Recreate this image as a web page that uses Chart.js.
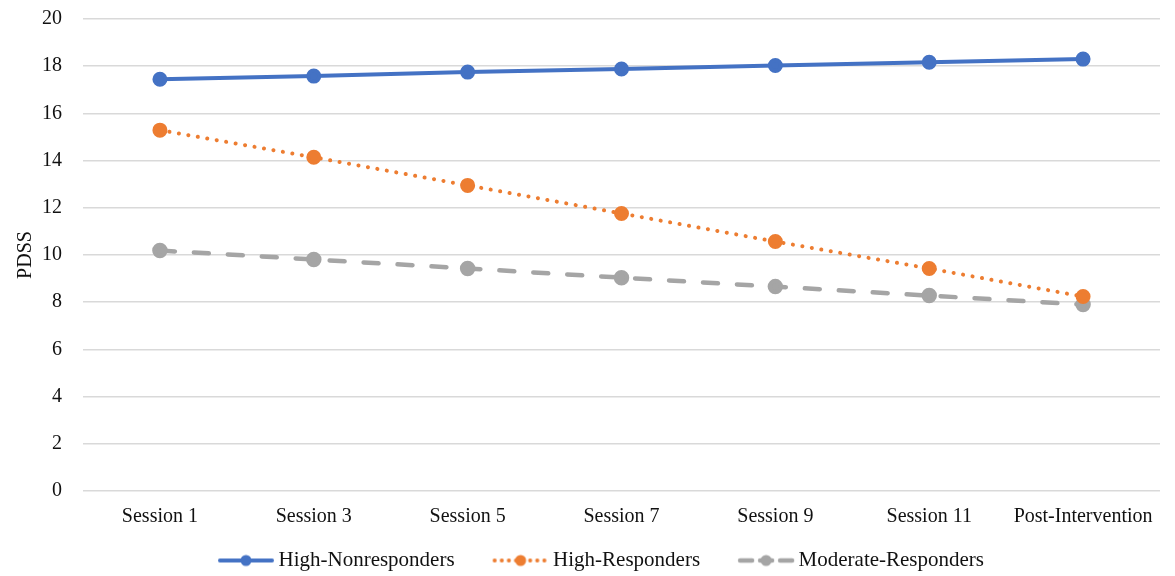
<!DOCTYPE html>
<html lang="en">
<head>
    <meta charset="UTF-8">
    <title>PDSS by session</title>
    <script src="https://cdn.jsdelivr.net/npm/chart.js"></script>
    <style>
        html, body { margin: 0; padding: 0; background: #fff; }
        #wrap { width: 1175px; height: 576px; }
    </style>
</head>
<body>

<div id="wrap">
    <canvas id="pdssChart"></canvas>
</div>

<script>
    // Data
    const sessions = ['Session 1', 'Session 3', 'Session 5', 'Session 7', 'Session 9', 'Session 11', 'Post-Intervention'];
    const highNonresponders = [17.45, 17.58, 17.75, 17.88, 18.03, 18.17, 18.3];
    const highResponders = [15.29, 14.14, 12.95, 11.76, 10.57, 9.43, 8.24];
    const moderateResponders = [10.19, 9.81, 9.43, 9.04, 8.66, 8.28, 7.9];

    const serif = '"Liberation Serif", "Times New Roman", serif';

    // legend box is 78 wide, the picture is 98 wide so it pokes 10px out on each side
    const boxW = 78;
    function legendMarker(color, dash, width) {
        const c = document.createElement('canvas');
        c.width = boxW + 20;
        c.height = 14;
        const g = c.getContext('2d');
        const x1 = c.width - 6, x0 = x1 - 52;
        g.strokeStyle = color;
        g.fillStyle = color;
        g.lineWidth = width;
        g.lineCap = 'round';
        g.setLineDash(dash);
        g.beginPath();
        g.moveTo(x0, 7);
        g.lineTo(x1, 7);
        g.stroke();
        g.beginPath();
        g.arc((x0 + x1) / 2, 7, 5.5, 0, Math.PI * 2);
        g.fill();
        return c;
    }

    const blue = '#4472C4', orange = '#ED7D31', grey = '#A5A5A5';

    const ctx = document.getElementById('pdssChart').getContext('2d');
    new Chart(ctx, {
        type: 'line',
        data: {
            labels: sessions,
            datasets: [{
                label: 'High-Nonresponders',
                data: highNonresponders,
                borderColor: blue,
                backgroundColor: blue,
                borderWidth: 4,
                pointRadius: 5.5,
                pointHoverRadius: 5.5,
                marker: legendMarker(blue, [], 4)
            }, {
                label: 'High-Responders',
                data: highResponders,
                borderColor: orange,
                backgroundColor: orange,
                borderWidth: 4,
                borderDash: [0.1, 9.5],
                borderCapStyle: 'round',
                pointRadius: 5.5,
                pointHoverRadius: 5.5,
                marker: legendMarker(orange, [0.1, 7], 4)
            }, {
                label: 'Moderate-Responders',
                data: moderateResponders,
                borderColor: grey,
                backgroundColor: grey,
                borderWidth: 4.5,
                borderDash: [15, 19],
                borderCapStyle: 'round',
                pointRadius: 5.5,
                pointHoverRadius: 5.5,
                marker: legendMarker(grey, [12, 8], 4.5)
            }]
        },
        options: {
            responsive: true,
            maintainAspectRatio: false,
            animation: false,
            layout: { padding: { left: 14, right: 15, top: 19, bottom: -5 } },
            plugins: {
                tooltip: { enabled: false },
                legend: {
                    position: 'bottom',
                    labels: {
                        usePointStyle: true,
                        pointStyleWidth: boxW,
                        padding: 10,
                        color: '#111',
                        font: { family: serif, size: 21 },
                        generateLabels(chart) {
                            return chart.data.datasets.map((ds, i) => ({
                                text: ds.label,
                                pointStyle: ds.marker,
                                fillStyle: ds.borderColor,
                                strokeStyle: ds.borderColor,
                                lineWidth: 0,
                                fontColor: '#111',
                                hidden: false,
                                datasetIndex: i
                            }));
                        }
                    }
                }
            },
            scales: {
                x: {
                    offset: true,
                    grid: { display: false },
                    border: { display: false },
                    ticks: { color: '#111', font: { family: serif, size: 20 }, padding: 6 },
                    afterFit(scale) { scale.height += 5; }
                },
                y: {
                    min: 0,
                    max: 20,
                    ticks: { stepSize: 2, color: '#111', font: { family: serif, size: 20 }, padding: 21 },
                    grid: { color: '#d9d9d9', lineWidth: 1.5, drawTicks: false },
                    border: { display: false },
                    title: { display: true, text: 'PDSS', color: '#111', font: { family: serif, size: 20 }, padding: { top: 0, bottom: -17 } },
                    afterFit(scale) { scale.paddingTop = 0; }
                }
            }
        }
    });
</script>

</body>
</html>
